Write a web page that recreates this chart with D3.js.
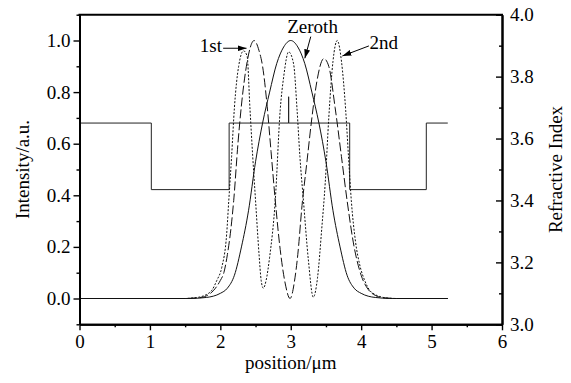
<!DOCTYPE html>
<html>
<head>
<meta charset="utf-8">
<script src="https://cdn.jsdelivr.net/npm/d3@7"></script>
<style>
body { margin: 0; background: #fff; }
svg { display: block; }
svg text { font-family: "Liberation Serif", "Times New Roman", serif; }
</style>
</head>
<body>
<svg id="chart" width="571" height="383"></svg>
<script>
// mode intensity profiles, position in um / intensity in a.u.
var zerothX = [0, 1.5, 1.7, 1.8, 1.9, 2.0, 2.1, 2.2, 2.3, 2.4, 2.5, 2.6, 2.7, 2.8, 2.9, 3.0, 3.1, 3.2, 3.3, 3.4, 3.5, 3.6, 3.7, 3.8, 3.9, 4.0, 4.1, 4.2, 4.3, 4.5, 5.23]
var zerothY = [0, 0, 0.0015, 0.004, 0.009, 0.02, 0.04, 0.09, 0.2, 0.34, 0.53, 0.68, 0.8, 0.91, 0.975, 1.0, 0.975, 0.91, 0.8, 0.68, 0.53, 0.34, 0.2, 0.09, 0.04, 0.02, 0.009, 0.004, 0.0015, 0, 0]

var firstX = [0, 1.5, 1.7, 1.8, 1.9, 2.0, 2.05, 2.1, 2.15, 2.19, 2.25, 2.3, 2.37, 2.48, 2.55, 2.6, 2.66, 2.72, 2.78, 2.85, 2.92, 2.99, 3.06, 3.1, 3.16, 3.23, 3.3, 3.37, 3.47, 3.54, 3.63, 3.72, 3.8, 3.9, 4.0, 4.1, 4.2, 4.3, 4.5, 5.23]
var firstY = [0, 0, 0.003, 0.01, 0.03, 0.07, 0.1, 0.17, 0.27, 0.38, 0.6, 0.75, 0.9, 1.0, 0.96, 0.9, 0.76, 0.57, 0.38, 0.19, 0.06, 0.0, 0.08, 0.17, 0.36, 0.53, 0.7, 0.84, 0.93, 0.9, 0.74, 0.55, 0.38, 0.2, 0.09, 0.035, 0.012, 0.003, 0, 0]

var secondX = [0, 1.5, 1.6, 1.71, 1.8, 1.88, 1.95, 2.02, 2.09, 2.12, 2.16, 2.2, 2.26, 2.33, 2.38, 2.42, 2.46, 2.5, 2.55, 2.58, 2.61, 2.65, 2.7, 2.78, 2.85, 2.9, 2.97, 3.04, 3.09, 3.13, 3.18, 3.25, 3.32, 3.38, 3.44, 3.49, 3.54, 3.6, 3.66, 3.72, 3.78, 3.82, 3.86, 3.92, 3.98, 4.05, 4.12, 4.2, 4.3, 4.4, 4.5, 5.23]
var secondY = [0, 0, 0.002, 0.006, 0.015, 0.032, 0.07, 0.12, 0.25, 0.38, 0.55, 0.74, 0.9, 0.96, 0.94, 0.74, 0.55, 0.38, 0.17, 0.07, 0.04, 0.07, 0.16, 0.38, 0.73, 0.86, 0.956, 0.91, 0.73, 0.55, 0.38, 0.15, 0.005, 0.08, 0.27, 0.45, 0.7, 0.92, 1.0, 0.92, 0.73, 0.55, 0.38, 0.22, 0.13, 0.07, 0.032, 0.015, 0.005, 0.001, 0, 0]

// refractive index profile (right axis)
var indexX = [0, 1.02, 1.02, 2.125, 2.125, 2.97, 2.97, 2.97, 3.837, 3.837, 4.925, 4.925, 5.23]
var indexN = [3.65, 3.65, 3.435, 3.435, 3.65, 3.65, 3.735, 3.65, 3.65, 3.435, 3.435, 3.65, 3.65]

var xTicks = [0, 1, 2, 3, 4, 5, 6]
var xMinor = [0.5, 1.5, 2.5, 3.5, 4.5, 5.5]
var yTicks = [0, 0.2, 0.4, 0.6, 0.8, 1.0]
var yMinor = [-0.1, 0.1, 0.3, 0.5, 0.7, 0.9, 1.1]
var nTicks = [3.0, 3.2, 3.4, 3.6, 3.8, 4.0]
var nMinor = [3.1, 3.3, 3.5, 3.7, 3.9]

var svg = d3.select("#chart")
var fs = 19
var ff = "Liberation Serif, Times New Roman, serif"

var x = d3.scaleLinear().domain([0, 6]).range([79.5, 502])
var y = d3.scaleLinear().domain([-0.1, 1.1]).range([324.3, 14.7])
var yr = d3.scaleLinear().domain([3, 4]).range([324.3, 14.7])

svg.append("defs").append("marker")
    .attr("id", "head")
    .attr("markerUnits", "userSpaceOnUse")
    .attr("markerWidth", 9).attr("markerHeight", 6)
    .attr("refX", 9).attr("refY", 3)
    .attr("orient", "auto")
    .append("path").attr("d", "M0,0 L9,3 L0,6 Z").attr("fill", "#000")

// index profile
var idxLine = d3.line()
    .x((d, i) => x(indexX[i]))
    .y((d, i) => yr(indexN[i]))
svg.append("path")
    .attr("d", idxLine(indexN))
    .attr("fill", "none").attr("stroke", "#222").attr("stroke-width", 1)

function modeLine(xs, ys, dash) {
    var line = d3.line()
        .x((d, i) => x(xs[i]))
        .y((d, i) => y(ys[i]))
        .curve(d3.curveMonotoneX)
    svg.append("path")
        .attr("d", line(ys))
        .attr("fill", "none")
        .attr("stroke", "#111")
        .attr("stroke-width", 1)
        .attr("stroke-dasharray", dash)
}
modeLine(secondX, secondY, "2,1.6")
modeLine(firstX, firstY, "9,3")
modeLine(zerothX, zerothY, null)

// axes
function styleAxis(g) {
    g.attr("font-family", ff).attr("font-size", fs)
    g.select(".domain").attr("stroke-width", 2)
    g.selectAll(".tick line").attr("stroke-width", 1.4)
    g.selectAll("text").attr("font-size", fs).attr("font-family", ff).attr("fill", "#000")
}

svg.append("g").attr("transform", "translate(0,324.3)")
    .call(d3.axisBottom(x).tickValues(xTicks).tickFormat(d3.format("d")).tickSize(6).tickSizeOuter(0).tickPadding(4))
    .call(styleAxis)
svg.append("g").attr("transform", "translate(0,324.3)")
    .call(d3.axisBottom(x).tickValues(xMinor).tickFormat("").tickSize(3).tickSizeOuter(0))
    .call(styleAxis)

svg.append("g").attr("transform", "translate(79.5,0)")
    .call(d3.axisLeft(y).tickValues(yTicks).tickFormat(d3.format(".1f")).tickSize(6).tickSizeOuter(0).tickPadding(3))
    .call(styleAxis)
svg.append("g").attr("transform", "translate(79.5,0)")
    .call(d3.axisLeft(y).tickValues(yMinor).tickFormat("").tickSize(3).tickSizeOuter(0))
    .call(styleAxis)

svg.append("g").attr("transform", "translate(502,0)")
    .call(d3.axisRight(yr).tickValues(nTicks).tickFormat(d3.format(".1f")).tickSizeInner(-6).tickSizeOuter(0).tickPadding(8))
    .call(styleAxis)
svg.append("g").attr("transform", "translate(502,0)")
    .call(d3.axisRight(yr).tickValues(nMinor).tickFormat("").tickSizeInner(-3).tickSizeOuter(0))
    .call(styleAxis)

// top frame line
svg.append("line")
    .attr("x1", x(0) - 1).attr("x2", x(6) + 1)
    .attr("y1", y(1.1)).attr("y2", y(1.1))
    .attr("stroke", "#000").attr("stroke-width", 2)

// axis titles
svg.append("text")
    .attr("transform", "translate(22," + ((y(1.1) + y(-0.1)) / 2) + ") rotate(-90)")
    .attr("text-anchor", "middle").attr("dominant-baseline", "central")
    .attr("font-family", ff).attr("font-size", fs).text("Intensity/a.u.")
svg.append("text")
    .attr("transform", "translate(555," + ((y(1.1) + y(-0.1)) / 2) + ") rotate(-90)")
    .attr("text-anchor", "middle").attr("dominant-baseline", "central")
    .attr("font-family", ff).attr("font-size", fs).text("Refractive Index")
svg.append("text")
    .attr("x", (x(0) + x(6)) / 2).attr("y", 369)
    .attr("text-anchor", "middle")
    .attr("font-family", ff).attr("font-size", fs).text("position/\u03bcm")

// mode annotations
function note(label, tx, ty, anchor, ax1, ay1, ax2, ay2) {
    svg.append("text")
        .attr("x", x(tx)).attr("y", y(ty))
        .attr("text-anchor", anchor)
        .attr("font-family", ff).attr("font-size", fs).text(label)
    svg.append("line")
        .attr("x1", x(ax1)).attr("y1", y(ay1))
        .attr("x2", x(ax2)).attr("y2", y(ay2))
        .attr("stroke", "#000").attr("stroke-width", 1)
        .attr("marker-end", "url(#head)")
}
note("Zeroth", 3.31, 1.029, "middle", 3.284, 1.015, 3.2, 0.931)
note("1st", 1.709, 0.954, "start", 2.04, 0.97, 2.372, 0.97)
note("2nd", 4.12, 0.966, "start", 4.11, 0.979, 3.733, 0.94)
</script>
</body>
</html>
